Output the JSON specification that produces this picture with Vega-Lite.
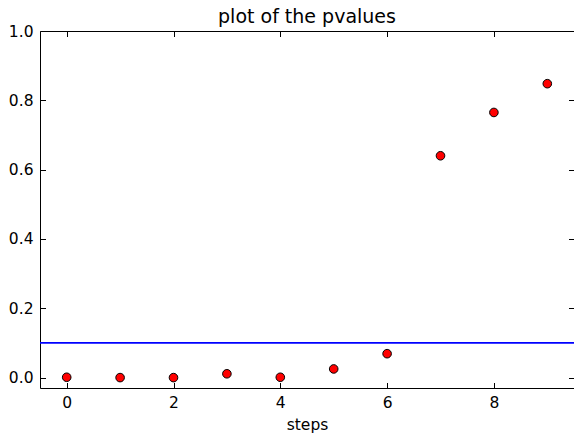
{
  "$schema": "https://vega.github.io/schema/vega-lite/v6.json",
  "autosize": {"type": "none"},
  "padding": {"left": 40, "top": 31, "right": 0, "bottom": 45},
  "width": 534,
  "height": 357,
  "title": {
    "text": "plot of the pvalues",
    "font": "DejaVu Sans",
    "fontSize": 19,
    "fontWeight": "normal",
    "color": "black",
    "offset": -3
  },
  "config": {
    "view": {"stroke": null},
    "axis": {
      "domainColor": "black",
      "domainWidth": 1,
      "tickColor": "black",
      "tickWidth": 1,
      "tickSize": -5.5,
      "grid": false,
      "labelFont": "DejaVu Sans",
      "labelFontSize": 15.5,
      "labelColor": "black",
      "titleFont": "DejaVu Sans",
      "titleFontSize": 15.5,
      "titleFontWeight": "normal",
      "titleColor": "black"
    }
  },
  "datasets": {
    "pvalues": [
      {"step": 0, "pvalue": 0.001},
      {"step": 1, "pvalue": 0.0},
      {"step": 2, "pvalue": 0.0},
      {"step": 3, "pvalue": 0.011},
      {"step": 4, "pvalue": 0.001},
      {"step": 5, "pvalue": 0.025},
      {"step": 6, "pvalue": 0.069},
      {"step": 7, "pvalue": 0.64},
      {"step": 8, "pvalue": 0.765},
      {"step": 9, "pvalue": 0.848}
    ],
    "threshold": [{"alpha": 0.1}]
  },
  "resolve": {"axis": {"x": "independent", "y": "independent"}},
  "layer": [
    {
      "data": {"name": "threshold"},
      "mark": {"type": "rule", "color": "#0000ff", "strokeWidth": 1.8},
      "encoding": {
        "y": {
          "field": "alpha",
          "type": "quantitative",
          "scale": {"domain": [-0.03, 1.0], "nice": false, "zero": false},
          "axis": null
        }
      }
    },
    {
      "data": {"name": "pvalues"},
      "mark": {"type": "point", "opacity": 0},
      "encoding": {
        "x": {
          "field": "step",
          "type": "quantitative",
          "scale": {"domain": [-0.5, 9.5], "nice": false, "zero": false},
          "axis": {"orient": "top", "labels": false, "title": null, "values": [0, 2, 4, 6, 8]}
        },
        "y": {
          "field": "pvalue",
          "type": "quantitative",
          "axis": {"orient": "right", "labels": false, "title": null, "values": [0, 0.2, 0.4, 0.6, 0.8, 1.0]}
        }
      }
    },
    {
      "data": {"name": "pvalues"},
      "mark": {
        "type": "point",
        "filled": true,
        "fill": "#ff0000",
        "stroke": "black",
        "strokeWidth": 1,
        "size": 74,
        "opacity": 1
      },
      "encoding": {
        "x": {
          "field": "step",
          "type": "quantitative",
          "axis": {
            "orient": "bottom",
            "title": "steps",
            "values": [0, 2, 4, 6, 8],
            "labelPadding": 13,
            "titlePadding": 6
          }
        },
        "y": {
          "field": "pvalue",
          "type": "quantitative",
          "axis": {
            "orient": "left",
            "title": null,
            "values": [0, 0.2, 0.4, 0.6, 0.8, 1.0],
            "format": ".1f",
            "labelPadding": 12.5
          }
        }
      }
    }
  ]
}
